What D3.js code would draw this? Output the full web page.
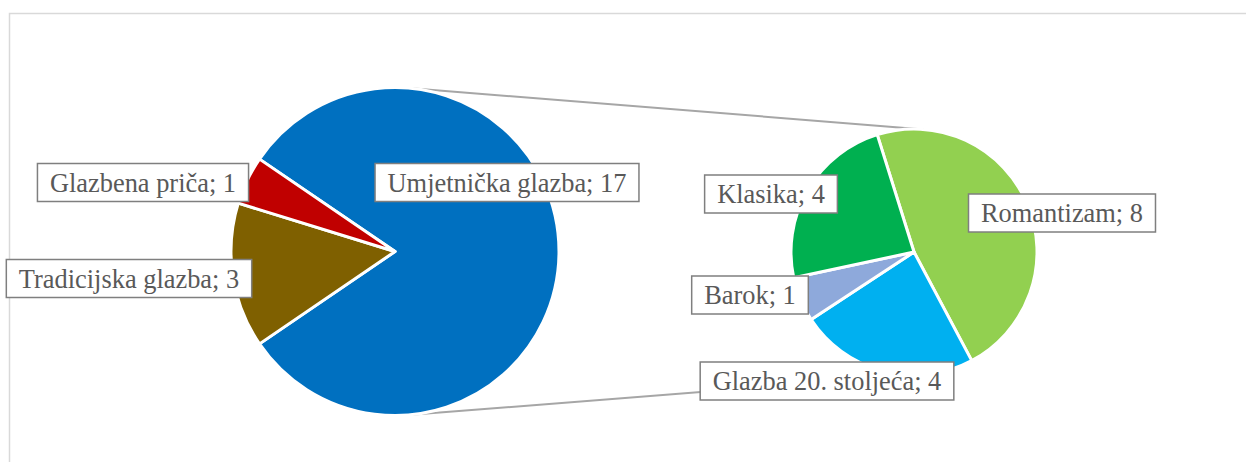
<!DOCTYPE html>
<html>
<head>
<meta charset="utf-8">
<title></title>
<style type="text/css">
  body { margin: 0; background: #fff; }
  svg { display: block; }
</style>
</head>
<body>
<div class="container"></div>
<script src="https://d3js.org/d3.v7.min.js"></script>
<script type="text/javascript">
// data
var mainCats = ["Umjetnička glazba", "Tradicijska glazba", "Glazbena priča"]
var mainVals = [17, 3, 1]
var mainCols = ["#0070C0", "#7F6000", "#C00000"]

var subCats = ["Romantizam", "Glazba 20. stoljeća", "Barok", "Klasika"]
var subVals = [8, 4, 1, 4]
var subCols = ["#92D050", "#00B0F0", "#8EA9DB", "#00B050"]

var wd = 1246, ht = 462

// layout
var mainC = {x: 395, y: 251.5, r: 164}
var subC = {x: 914, y: 252, r: 123}
var subStart = -17.4 * Math.PI / 180
// label centres, relative to each pie's centre
var mainLab = [[112, -69], [-266, 27], [-252, -69]]
var subLab = [[148, -39], [-87, 129], [-164, 43], [-143, -58]]

var svg = d3.select(".container").append("svg")
  .attr("width", wd)
  .attr("height", ht)

// chart border
svg.append("rect")
  .attr("x", 9.5).attr("y", 13.5)
  .attr("width", wd).attr("height", ht)
  .attr("fill", "none")
  .attr("stroke", "#d9d9d9")
  .attr("stroke-width", 1.5)

// connector lines: outer tangents of both circles
var dx = subC.x - mainC.x, dy = subC.y - mainC.y
var d = Math.sqrt(dx * dx + dy * dy)
var base = Math.atan2(dy, dx)
var phi = Math.acos((mainC.r - subC.r) / d)
;[-1, 1].forEach(function(s) {
  var a = base + s * phi
  svg.append("line")
    .attr("x1", mainC.x + mainC.r * Math.cos(a))
    .attr("y1", mainC.y + mainC.r * Math.sin(a))
    .attr("x2", subC.x + subC.r * Math.cos(a))
    .attr("y2", subC.y + subC.r * Math.sin(a))
    .attr("stroke", "#a6a6a6")
    .attr("stroke-width", 2)
})

var mainShare = mainVals[0] / d3.sum(mainVals)
var mainPie = d3.pie().sort(null).value(function(d) { return d })
  .startAngle(Math.PI / 2 - Math.PI * mainShare)
  .endAngle(Math.PI / 2 - Math.PI * mainShare + 2 * Math.PI)
var subPie = d3.pie().sort(null).value(function(d) { return d })
  .startAngle(subStart)
  .endAngle(subStart + 2 * Math.PI)

function drawPie(c, vals, cols, pie) {
  var arc = d3.arc().innerRadius(0).outerRadius(c.r)
  svg.append("g")
    .attr("transform", "translate(" + c.x + "," + c.y + ")")
    .selectAll("path")
    .data(pie(vals))
    .join("path")
    .attr("d", arc)
    .attr("fill", function(d, i) { return cols[i] })
    .attr("stroke", "#fff")
    .attr("stroke-width", 3)
    .attr("stroke-linejoin", "round")
}

drawPie(mainC, mainVals, mainCols, mainPie)
drawPie(subC, subVals, subCols, subPie)

function drawLabels(c, cats, vals, offs) {
  cats.forEach(function(cat, i) {
    var cx = c.x + offs[i][0], cy = c.y + offs[i][1]
    var g = svg.append("g")
    var box = g.append("rect")
    var t = g.append("text")
      .attr("x", cx)
      .attr("y", cy + 9)
      .attr("text-anchor", "middle")
      .style("font-family", "'Liberation Serif', 'Times New Roman', serif")
      .style("font-size", "26.4px")
      .attr("fill", "#595959")
      .text(cat + "; " + vals[i])
    var w = t.node().getComputedTextLength() + 25
    box.attr("x", cx - w / 2)
      .attr("y", cy - 19)
      .attr("width", w)
      .attr("height", 38)
      .attr("fill", "#fff")
      .attr("stroke", "#7f7f7f")
      .attr("stroke-width", 1.5)
  })
}

drawLabels(mainC, mainCats, mainVals, mainLab)
drawLabels(subC, subCats, subVals, subLab)
</script>
</body>
</html>
